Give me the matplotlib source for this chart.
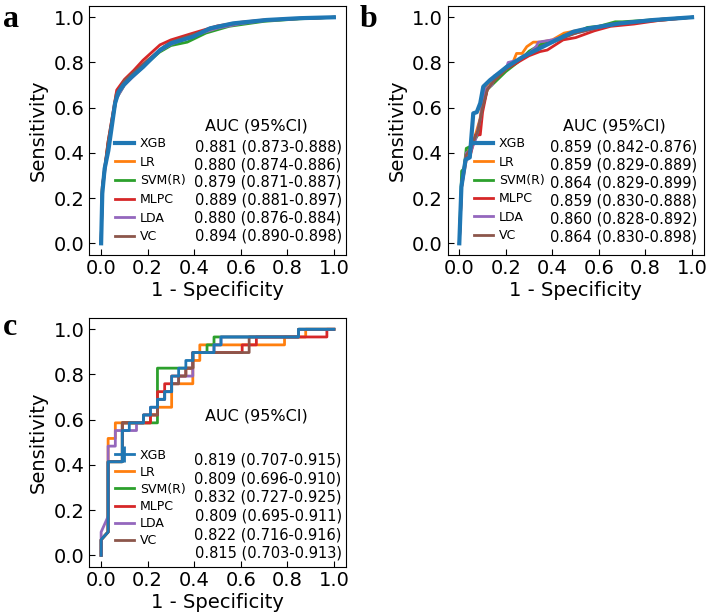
import matplotlib
matplotlib.use("Agg")
import matplotlib.pyplot as plt
from matplotlib.lines import Line2D

# ---- data ----
models = ["XGB", "LR", "SVM(R)", "MLPC", "LDA", "VC"]
colors = ["#1f77b4", "#ff7f0e", "#2ca02c", "#d62728", "#9467bd", "#8c564b"]

auc_a = ["0.881 (0.873-0.888)", "0.880 (0.874-0.886)", "0.879 (0.871-0.887)",
         "0.889 (0.881-0.897)", "0.880 (0.876-0.884)", "0.894 (0.890-0.898)"]
auc_b = ["0.859 (0.842-0.876)", "0.859 (0.829-0.889)", "0.864 (0.829-0.899)",
         "0.859 (0.830-0.888)", "0.860 (0.828-0.892)", "0.864 (0.830-0.898)"]
auc_c = ["0.819 (0.707-0.915)", "0.809 (0.696-0.910)", "0.832 (0.727-0.925)",
         "0.809 (0.695-0.911)", "0.822 (0.716-0.916)", "0.815 (0.703-0.913)"]

# panel a (train)
a_xgb_fpr = [0, 0.005, 0.015, 0.031, 0.06, 0.075, 0.096, 0.13, 0.18, 0.253, 0.30, 0.395, 0.468, 0.567, 0.71, 0.853, 1.0]
a_xgb_tpr = [0, 0.22, 0.33, 0.41, 0.62, 0.67, 0.70, 0.735, 0.78, 0.855, 0.885, 0.914, 0.951, 0.973, 0.988, 0.996, 1.0]
a_lr_fpr = [0, 0.005, 0.03, 0.065, 0.1, 0.15, 0.2, 0.25, 0.3, 0.4, 0.5, 0.6, 0.7, 0.85, 1]
a_lr_tpr = [0, 0.24, 0.44, 0.65, 0.71, 0.76, 0.81, 0.85, 0.88, 0.92, 0.955, 0.975, 0.985, 0.994, 1]
a_svm_fpr = [0, 0.005, 0.03, 0.065, 0.1, 0.15, 0.2, 0.25, 0.3, 0.37, 0.45, 0.55, 0.7, 0.85, 1]
a_svm_tpr = [0, 0.24, 0.44, 0.64, 0.70, 0.755, 0.80, 0.845, 0.875, 0.89, 0.93, 0.96, 0.982, 0.993, 1]
a_mlpc_fpr = [0, 0.005, 0.03, 0.067, 0.1, 0.14, 0.18, 0.253, 0.3, 0.395, 0.5, 0.6, 0.7, 0.85, 1.0]
a_mlpc_tpr = [0, 0.25, 0.45, 0.678, 0.725, 0.765, 0.81, 0.878, 0.90, 0.93, 0.962, 0.978, 0.988, 0.995, 1.0]
a_lda_fpr = [0, 0.005, 0.03, 0.065, 0.1, 0.15, 0.2, 0.25, 0.3, 0.4, 0.5, 0.6, 0.7, 0.85, 1]
a_lda_tpr = [0, 0.23, 0.43, 0.64, 0.70, 0.75, 0.80, 0.85, 0.88, 0.92, 0.952, 0.972, 0.985, 0.994, 1]
a_vc_fpr = [0, 0.005, 0.03, 0.065, 0.1, 0.15, 0.2, 0.27, 0.3, 0.4, 0.5, 0.6, 0.7, 0.85, 1]
a_vc_tpr = [0, 0.25, 0.45, 0.66, 0.72, 0.765, 0.81, 0.87, 0.89, 0.925, 0.958, 0.976, 0.987, 0.995, 1]

# panel b (validation)
b_xgb_fpr = [0, 0.009, 0.027, 0.045, 0.06, 0.075, 0.09, 0.103, 0.132, 0.203, 0.275, 0.346, 0.418, 0.49, 0.55, 0.69, 0.835, 1.0]
b_xgb_tpr = [0, 0.25, 0.37, 0.38, 0.575, 0.58, 0.62, 0.693, 0.722, 0.78, 0.826, 0.863, 0.9, 0.936, 0.95, 0.973, 0.988, 1.0]
b_lr_fpr = [0, 0.01, 0.03, 0.045, 0.06, 0.075, 0.089, 0.1, 0.118, 0.15, 0.2, 0.23, 0.246, 0.27, 0.29, 0.318, 0.35, 0.4, 0.45, 0.5, 0.6, 0.7, 0.85, 1]
b_lr_tpr = [0, 0.25, 0.4, 0.42, 0.45, 0.50, 0.55, 0.634, 0.70, 0.73, 0.78, 0.80, 0.84, 0.84, 0.87, 0.89, 0.89, 0.90, 0.93, 0.94, 0.96, 0.975, 0.985, 1]
b_svm_fpr = [0, 0.01, 0.02, 0.03, 0.05, 0.08, 0.1, 0.12, 0.15, 0.2, 0.25, 0.3, 0.35, 0.4, 0.45, 0.5, 0.55, 0.6, 0.67, 0.7, 0.85, 1]
b_svm_tpr = [0, 0.32, 0.33, 0.42, 0.43, 0.48, 0.6, 0.68, 0.71, 0.76, 0.80, 0.85, 0.88, 0.89, 0.92, 0.93, 0.955, 0.96, 0.98, 0.98, 0.99, 1]
b_mlpc_fpr = [0, 0.01, 0.03, 0.05, 0.07, 0.09, 0.1, 0.12, 0.15, 0.2, 0.25, 0.3, 0.346, 0.378, 0.446, 0.5, 0.58, 0.65, 0.75, 0.85, 1]
b_mlpc_tpr = [0, 0.25, 0.37, 0.4, 0.48, 0.48, 0.58, 0.68, 0.72, 0.77, 0.80, 0.83, 0.848, 0.855, 0.90, 0.91, 0.94, 0.96, 0.97, 0.985, 1]
b_lda_fpr = [0, 0.01, 0.03, 0.05, 0.07, 0.09, 0.11, 0.14, 0.15, 0.2, 0.21, 0.25, 0.3, 0.33, 0.34, 0.4, 0.5, 0.6, 0.7, 0.85, 1]
b_lda_tpr = [0, 0.25, 0.40, 0.41, 0.46, 0.55, 0.68, 0.70, 0.74, 0.77, 0.80, 0.81, 0.84, 0.87, 0.89, 0.90, 0.93, 0.955, 0.975, 0.99, 1]
b_vc_fpr = [0, 0.01, 0.03, 0.05, 0.08, 0.1, 0.12, 0.15, 0.2, 0.25, 0.3, 0.35, 0.4, 0.5, 0.6, 0.65, 0.7, 0.85, 1]
b_vc_tpr = [0, 0.27, 0.39, 0.42, 0.5, 0.6, 0.68, 0.72, 0.77, 0.81, 0.84, 0.87, 0.89, 0.93, 0.955, 0.97, 0.975, 0.99, 1]

# panel c (test)
c_xgb_fpr = [0, 0, 0.030, 0.030, 0.091, 0.091, 0.121, 0.121, 0.182, 0.182, 0.212, 0.212, 0.242, 0.242, 0.273, 0.273,
             0.303, 0.303, 0.333, 0.333, 0.364, 0.364, 0.394, 0.394, 0.485, 0.485, 0.515, 0.515, 0.848, 0.848, 1.0]
c_xgb_tpr = [0, 0.069, 0.103, 0.414, 0.414, 0.552, 0.552, 0.586, 0.586, 0.621, 0.621, 0.655, 0.655, 0.690, 0.690, 0.724,
             0.724, 0.793, 0.793, 0.828, 0.828, 0.862, 0.862, 0.897, 0.897, 0.931, 0.931, 0.966, 0.966, 1.0, 1.0]
c_lr_fpr = [0, 0, 0.030, 0.030, 0.061, 0.061, 0.212, 0.212, 0.242, 0.242, 0.303, 0.303, 0.394, 0.394, 0.424, 0.424,
            0.788, 0.788, 0.879, 0.879, 1.0]
c_lr_tpr = [0, 0.069, 0.103, 0.517, 0.517, 0.586, 0.586, 0.621, 0.621, 0.655, 0.655, 0.759, 0.759, 0.862, 0.862, 0.931,
            0.931, 0.966, 0.966, 1.0, 1.0]
c_svm_fpr = [0, 0, 0.030, 0.030, 0.091, 0.091, 0.242, 0.242, 0.394, 0.394, 0.455, 0.455, 0.485, 0.485, 0.848, 0.848, 1.0]
c_svm_tpr = [0, 0.069, 0.103, 0.414, 0.414, 0.586, 0.586, 0.828, 0.828, 0.897, 0.897, 0.931, 0.931, 0.966, 0.966, 1.0, 1.0]
c_mlpc_fpr = [0, 0, 0.030, 0.030, 0.091, 0.091, 0.212, 0.212, 0.242, 0.242, 0.273, 0.273, 0.303, 0.303, 0.364, 0.364,
              0.394, 0.394, 0.606, 0.606, 0.667, 0.667, 0.970, 0.970, 1.0]
c_mlpc_tpr = [0, 0.069, 0.103, 0.414, 0.414, 0.586, 0.586, 0.621, 0.621, 0.724, 0.724, 0.759, 0.759, 0.793, 0.793, 0.828,
              0.828, 0.897, 0.897, 0.931, 0.931, 0.966, 0.966, 1.0, 1.0]
c_lda_fpr = [0, 0, 0.030, 0.030, 0.061, 0.061, 0.152, 0.152, 0.182, 0.182, 0.212, 0.212, 0.242, 0.242, 0.273, 0.273,
             0.303, 0.303, 0.333, 0.333, 0.394, 0.394, 0.485, 0.485, 0.515, 0.515, 0.848, 0.848, 1.0]
c_lda_tpr = [0, 0.103, 0.172, 0.483, 0.483, 0.552, 0.552, 0.586, 0.586, 0.621, 0.621, 0.655, 0.655, 0.690, 0.690, 0.724,
             0.724, 0.759, 0.759, 0.793, 0.793, 0.897, 0.897, 0.931, 0.931, 0.966, 0.966, 1.0, 1.0]
c_vc_fpr = [0, 0, 0.030, 0.030, 0.091, 0.091, 0.182, 0.182, 0.242, 0.242, 0.273, 0.273, 0.303, 0.303, 0.333, 0.333,
            0.364, 0.364, 0.394, 0.394, 0.636, 0.636, 0.848, 0.848, 1.0]
c_vc_tpr = [0, 0.069, 0.103, 0.414, 0.414, 0.586, 0.586, 0.621, 0.621, 0.690, 0.690, 0.724, 0.724, 0.759, 0.759, 0.793,
            0.793, 0.828, 0.828, 0.897, 0.897, 0.966, 0.966, 1.0, 1.0]

panel_a = [(a_xgb_fpr, a_xgb_tpr), (a_lr_fpr, a_lr_tpr), (a_svm_fpr, a_svm_tpr),
           (a_mlpc_fpr, a_mlpc_tpr), (a_lda_fpr, a_lda_tpr), (a_vc_fpr, a_vc_tpr)]
panel_b = [(b_xgb_fpr, b_xgb_tpr), (b_lr_fpr, b_lr_tpr), (b_svm_fpr, b_svm_tpr),
           (b_mlpc_fpr, b_mlpc_tpr), (b_lda_fpr, b_lda_tpr), (b_vc_fpr, b_vc_tpr)]
panel_c = [(c_xgb_fpr, c_xgb_tpr), (c_lr_fpr, c_lr_tpr), (c_svm_fpr, c_svm_tpr),
           (c_mlpc_fpr, c_mlpc_tpr), (c_lda_fpr, c_lda_tpr), (c_vc_fpr, c_vc_tpr)]

fig = plt.figure(figsize=(7.08, 6.16), dpi=100)

def draw_panel(rect, curves, aucs, letter, letter_xy, xgb_lw, other_lw, auc_head_y,
               auc_y0, auc_dy, auc_right, leg_xy, leg_space, xgb_marker=False):
    ax = fig.add_axes(rect)
    lines = [None] * len(models)
    # others first, XGB on top
    for i in list(range(1, len(models))) + [0]:
        fpr, tpr = curves[i]
        lw = xgb_lw if i == 0 else other_lw
        lines[i], = ax.plot(fpr, tpr, color=colors[i], lw=lw)
    handles = list(lines)
    if xgb_marker:
        handles[0] = Line2D([], [], color=colors[0], lw=xgb_lw, marker='|', ms=12, mew=2)
    ax.legend(handles, models, loc='upper left', bbox_to_anchor=leg_xy, frameon=False,
              fontsize=9, borderpad=0, borderaxespad=0, handlelength=1.5,
              handletextpad=0.5, labelspacing=leg_space)
    ax.text(0.653, auc_head_y, "AUC (95%CI)", transform=ax.transAxes, fontsize=11.5,
            ha='center', va='center')
    for k, s in enumerate(aucs):
        ax.text(auc_right, auc_y0 - k * auc_dy, s, transform=ax.transAxes, fontsize=10.5,
                ha='right', va='center')
    ax.set_xlim(-0.05, 1.05)
    ax.set_ylim(-0.05, 1.05)
    ax.set_xticks([0, 0.2, 0.4, 0.6, 0.8, 1.0])
    ax.set_yticks([0, 0.2, 0.4, 0.6, 0.8, 1.0])
    ax.tick_params(direction='in', labelsize=14, length=4)
    ax.set_xlabel("1 - Specificity", fontsize=14, labelpad=2)
    ax.set_ylabel("Sensitivity", fontsize=14, labelpad=4)
    fig.text(letter_xy[0], letter_xy[1], letter, fontsize=23, fontweight='bold',
             family='Liberation Serif', ha='left', va='baseline')
    return ax

draw_panel([0.1264, 0.5867, 0.3616, 0.4036], panel_a, auc_a, "a", (0.004, 0.956),
           3.0, 2.0, 0.517, 0.434, 0.072, 0.985, (0.0996, 0.472), 0.45)
draw_panel([0.6323, 0.5867, 0.3616, 0.4036], panel_b, auc_b, "b", (0.508, 0.956),
           3.0, 2.0, 0.517, 0.434, 0.073, 0.975, (0.103, 0.472), 0.43)
draw_panel([0.1264, 0.0802, 0.3616, 0.4036], panel_c, auc_c, "c", (0.004, 0.456),
           2.0, 2.0, 0.604, 0.429, 0.075, 0.985, (0.0996, 0.475), 0.33, xgb_marker=True)

fig.savefig("out.png", dpi=100)
